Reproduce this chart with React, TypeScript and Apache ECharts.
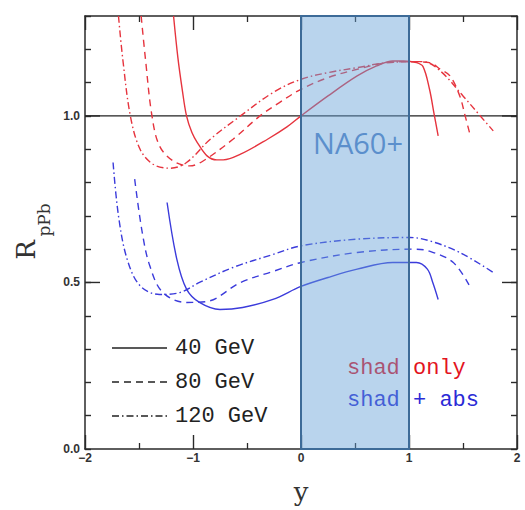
import React, { useEffect, useRef } from 'react';
import * as echarts from 'echarts';

const xMin = -2;
const xMax = 2;
const yMin = 0;
const yMax = 1.3;
const yMajorTicks = [0.5, 1.0];

// shadowing only (red)
const red40: number[][] = [
  [-1.18, 1.3], [-1.14, 1.175], [-1.1, 1.08], [-1.06, 1.0], [-1.01, 0.95], [-0.96, 0.92],
  [-0.87, 0.88], [-0.78, 0.868], [-0.72, 0.868], [-0.56, 0.885], [-0.31, 0.93], [-0.13, 0.967],
  [0.0, 1.0], [0.25, 1.06], [0.52, 1.12], [0.7, 1.15], [0.85, 1.165], [0.95, 1.165],
  [1.07, 1.16], [1.13, 1.148], [1.19, 1.08], [1.23, 1.01], [1.27, 0.94],
];
const red80: number[][] = [
  [-1.48, 1.3], [-1.44, 1.17], [-1.38, 1.0], [-1.31, 0.91], [-1.18, 0.864], [-1.03, 0.85],
  [-0.91, 0.864], [-0.63, 0.93], [-0.38, 1.0], [-0.2, 1.04], [0.0, 1.08], [0.25, 1.115],
  [0.52, 1.14], [0.8, 1.16], [1.0, 1.163], [1.19, 1.16], [1.29, 1.14], [1.38, 1.12],
  [1.47, 1.06], [1.52, 1.0], [1.56, 0.95],
];
const red120: number[][] = [
  [-1.69, 1.3], [-1.65, 1.17], [-1.58, 1.0], [-1.49, 0.9], [-1.37, 0.855], [-1.21, 0.843],
  [-1.06, 0.86], [-0.84, 0.93], [-0.56, 1.0], [-0.26, 1.07], [0.0, 1.11], [0.25, 1.13],
  [0.52, 1.145], [0.8, 1.16], [1.13, 1.163], [1.29, 1.135], [1.5, 1.06], [1.66, 1.0], [1.78, 0.955],
];

// shadowing + absorption (blue)
const blue40: number[][] = [
  [-1.24, 0.74], [-1.15, 0.57], [-1.06, 0.48], [-0.94, 0.44], [-0.75, 0.419], [-0.54, 0.425],
  [-0.26, 0.449], [0.0, 0.488], [0.25, 0.515], [0.52, 0.54], [0.85, 0.56], [1.07, 0.56],
  [1.17, 0.54], [1.22, 0.5], [1.27, 0.449],
];
const blue80: number[][] = [
  [-1.54, 0.81], [-1.47, 0.65], [-1.4, 0.55], [-1.28, 0.47], [-1.06, 0.44], [-0.87, 0.443],
  [-0.56, 0.5], [-0.26, 0.533], [0.0, 0.56], [0.52, 0.59], [1.04, 0.6], [1.19, 0.594],
  [1.41, 0.56], [1.56, 0.49],
];
const blue120: number[][] = [
  [-1.74, 0.86], [-1.69, 0.7], [-1.61, 0.57], [-1.49, 0.49], [-1.31, 0.464], [-1.12, 0.47],
  [-0.94, 0.5], [-0.63, 0.545], [-0.26, 0.584], [0.0, 0.61], [0.52, 0.63], [1.01, 0.635],
  [1.19, 0.625], [1.47, 0.59], [1.78, 0.53],
];

const refLine: number[][] = [[-2, 1], [2, 1]];
const boxRange = [0, 1];
const legendLabels = ['40 GeV', '80 GeV', '120 GeV'];

const RED = '#e6343e';
const BLUE = '#3b3bdb';
const DASH = [7, 5];
const DASHDOT = [7, 3, 1.5, 3];
const styles: any[] = ['solid', DASH, DASHDOT];

export default function App() {
  const ref = useRef<HTMLDivElement>(null);
  useEffect(() => {
    const chart = echarts.init(ref.current!, null, { renderer: 'svg' });
    const axisColor = '#2a2a2a';
    const xBase = (pos: string, labels: boolean) => ({
      type: 'value', min: xMin, max: xMax, interval: 1, position: pos,
      axisLine: { show: true, onZero: false, lineStyle: { color: axisColor, width: 1.5 } },
      axisTick: { show: true, inside: true, length: 14, lineStyle: { color: axisColor, width: 1.4 } },
      minorTick: { show: true, splitNumber: 2, length: 6, lineStyle: { color: axisColor, width: 1.3 } },
      splitLine: { show: false },
      axisLabel: {
        show: labels, margin: 3, fontSize: 12, fontWeight: 'bold', color: '#333',
        fontFamily: 'Liberation Sans',
        formatter: (v: number) => (v < 0 ? '\u2212' + Math.abs(v) : String(v)),
      },
    });
    const yBase = (pos: string, labels: boolean) => ({
      type: 'value', min: yMin, max: yMax, interval: 0.1, position: pos,
      axisLine: { show: true, onZero: false, lineStyle: { color: axisColor, width: 1.5 } },
      axisTick: { show: true, inside: true, length: 6, lineStyle: { color: axisColor, width: 1.4 } },
      splitLine: { show: false },
      axisLabel: {
        show: labels, margin: 5, fontSize: 12, fontWeight: 'bold', color: '#333',
        fontFamily: 'Liberation Sans',
        formatter: (v: number) => (Math.round(v * 10) % 5 === 0 && v < 1.25 ? v.toFixed(1) : ''),
      },
    });

    const mkLine = (data: number[][], color: string, type: any, name: string) => ({
      type: 'line', name, data, symbol: 'none', smooth: 0.35,
      clip: true, z: 3,
      lineStyle: { color, width: 1.4, type },
    });

    const option: any = {
      animation: false,
      grid: { left: 85, right: 8, top: 16, bottom: 61 },
      xAxis: [xBase('bottom', true), xBase('top', false)],
      yAxis: [yBase('left', true), yBase('right', false)],
      series: [
        {
          type: 'line', data: refLine, symbol: 'none', z: 2,
          lineStyle: { color: '#222', width: 1.3 },
        },
        mkLine(red40, RED, styles[0], 'red40'),
        mkLine(red80, RED, styles[1], 'red80'),
        mkLine(red120, RED, styles[2], 'red120'),
        mkLine(blue40, BLUE, styles[0], 'blue40'),
        mkLine(blue80, BLUE, styles[1], 'blue80'),
        mkLine(blue120, BLUE, styles[2], 'blue120'),
        {
          // long y ticks at major values, both sides
          type: 'custom', z: 4, silent: true,
          data: yMajorTicks.map((v) => [xMin, v]),
          renderItem: (params: any, api: any) => {
            const l = api.coord([xMin, api.value(1)]);
            const r = api.coord([xMax, api.value(1)]);
            const st = { stroke: axisColor, lineWidth: 1.4 };
            return {
              type: 'group',
              children: [
                { type: 'line', shape: { x1: l[0], y1: l[1], x2: l[0] + 15, y2: l[1] }, style: st },
                { type: 'line', shape: { x1: r[0] - 15, y1: r[1], x2: r[0], y2: r[1] }, style: st },
              ],
            };
          },
        },
        {
          type: 'custom', z: 10, silent: true,
          data: [[boxRange[0], boxRange[1]]],
          renderItem: (params: any, api: any) => {
            const p0 = api.coord([api.value(0), yMax]);
            const p1 = api.coord([api.value(1), yMin]);
            return {
              type: 'group',
              children: [
                {
                  type: 'rect',
                  shape: { x: p0[0], y: p0[1], width: p1[0] - p0[0], height: p1[1] - p0[1] },
                  style: { fill: 'rgba(100,160,215,0.45)', stroke: '#3d6b98', lineWidth: 2 },
                },
                {
                  type: 'text',
                  x: (p0[0] + p1[0]) / 2 + 3,
                  y: p0[1] + 126,
                  style: {
                    text: 'NA60+', fill: '#5b8fcc', fontSize: 29, fontFamily: 'Open Sans',
                    align: 'center', verticalAlign: 'middle',
                  },
                },
              ],
            };
          },
        },
      ],
      graphic: [
        ...legendLabels.map((lab, i) => ({
          type: 'line', z: 1,
          shape: { x1: 112, y1: 348 + i * 34, x2: 167, y2: 348 + i * 34 },
          style: { stroke: '#222', lineWidth: 1.3, lineDash: i === 0 ? null : styles[i] },
        })),
        ...legendLabels.map((lab, i) => ({
          type: 'text', z: 1, x: 175, y: 348 + i * 34,
          style: { text: lab, fill: '#222', font: '22px "Liberation Mono"', verticalAlign: 'middle' },
        })),
        {
          type: 'text', z: 1, x: 347, y: 368,
          style: { text: 'shad only', fill: '#e3141e', font: '22px "Liberation Mono"', verticalAlign: 'middle' },
        },
        {
          type: 'text', z: 1, x: 347, y: 400,
          style: { text: 'shad + abs', fill: '#2b2bd6', font: '22px "Liberation Mono"', verticalAlign: 'middle' },
        },
        {
          type: 'text', z: 1, x: 301, y: 492,
          style: { text: 'y', fill: '#333', font: '26px "DejaVu Serif"', align: 'center', verticalAlign: 'middle' },
        },
        {
          type: 'text', z: 1, x: 26, y: 250, rotation: Math.PI / 2,
          style: { text: 'R', fill: '#333', font: '26px "DejaVu Serif"', align: 'center', verticalAlign: 'middle' },
        },
        {
          type: 'text', z: 1, x: 44, y: 220, rotation: Math.PI / 2,
          style: { text: 'pPb', fill: '#333', font: '17px "DejaVu Serif"', align: 'center', verticalAlign: 'middle' },
        },
      ],
    };
    chart.setOption(option);
    return () => chart.dispose();
  }, []);
  return <div ref={ref} style={{ position: 'absolute', left: 0, top: 0, width: 525, height: 510 }} />;
}
